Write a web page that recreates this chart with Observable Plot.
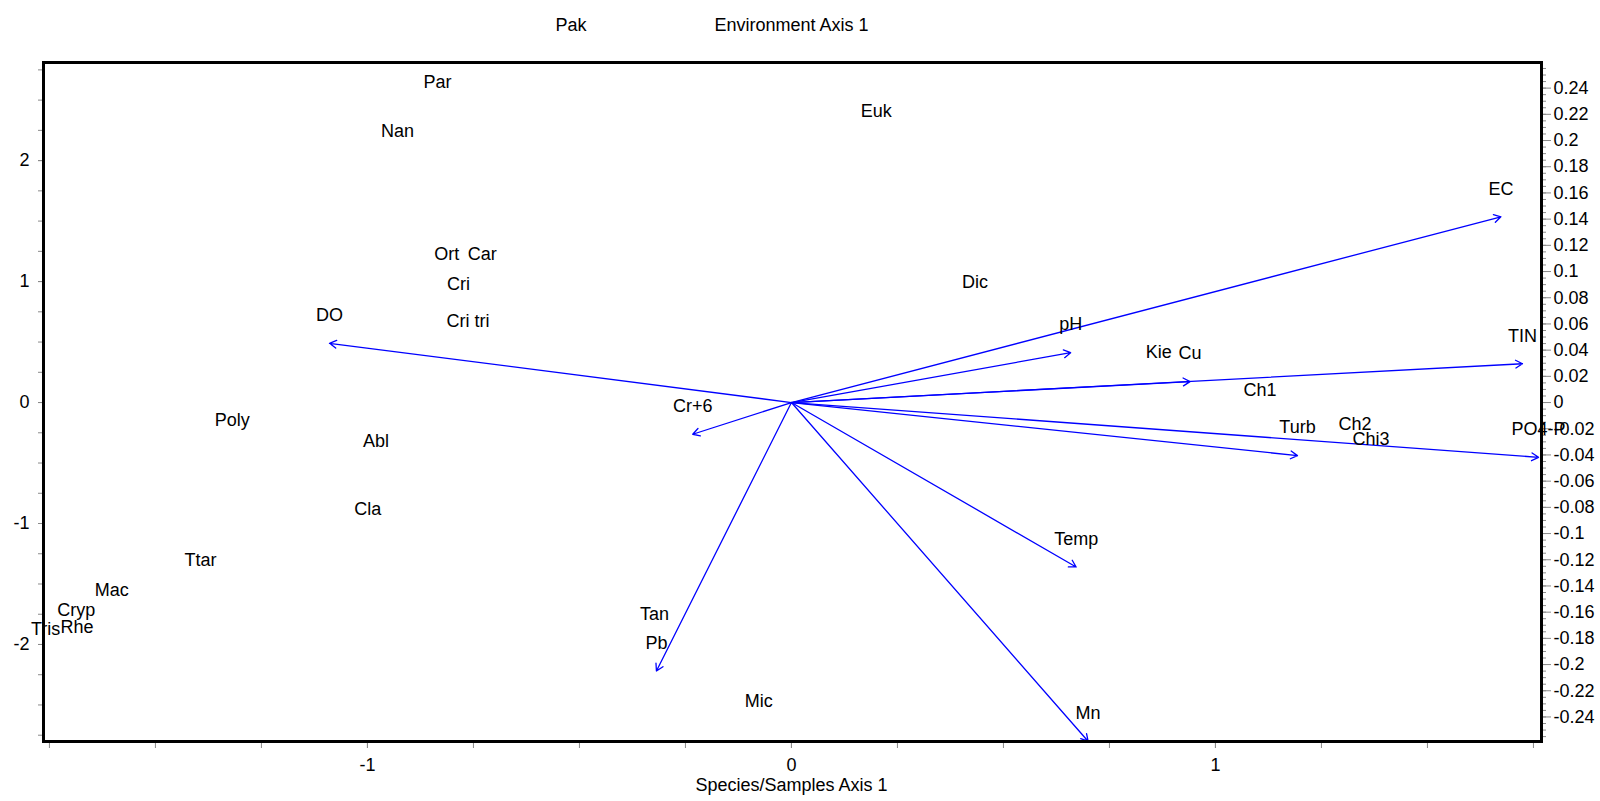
<!DOCTYPE html>
<html>
<head>
<meta charset="utf-8">
<script src="https://cdn.jsdelivr.net/npm/d3@7"></script>
<script src="https://cdn.jsdelivr.net/npm/@observablehq/plot@0.6"></script>
<style>
  html, body { margin: 0; padding: 0; background: #fff; }
  #chart svg { display: block; }
</style>
</head>
<body>
<div id="chart"></div>
<script>
// Species / samples scores (Species/Samples Axis 1, left axis units)
const speciesNames = ["Pak","Par","Nan","Euk","Ort","Car","Cri","Cri tri","Dic","Kie","Ch1","Ch2","Chi3","Poly","Abl","Cla","Ttar","Mac","Cryp","Tris","Rhe","Tan","Mic"];
const speciesX = [-0.520,-0.835,-0.929,0.200,-0.813,-0.729,-0.785,-0.763,0.433,0.866,1.105,1.329,1.367,-1.319,-0.980,-0.999,-1.394,-1.603,-1.687,-1.759,-1.685,-0.323,-0.077];
const speciesY = [3.123,2.65,2.245,2.405,1.224,1.224,0.979,0.675,0.996,0.413,0.099,-0.182,-0.300,-0.143,-0.321,-0.878,-1.300,-1.553,-1.713,-1.873,-1.857,-1.747,-2.473];

// Environmental variable scores (Environment Axis units, right axis)
const envNames = ["EC","pH","Cu","TIN","PO4-P","Turb","Temp","Mn","Pb","Cr+6","DO"];
const envX = [0.1545,0.0608,0.0868,0.1592,0.1627,0.1102,0.0620,0.0646,-0.0294,-0.0215,-0.1006];
const envY = [0.1418,0.0381,0.0160,0.0296,-0.0418,-0.0405,-0.1255,-0.2585,-0.2049,-0.0242,0.0452];

// Tick values
const xTickLabels = [-1, 0, 1];
const yTickLabels = [-2, -1, 0, 1, 2];
const envTickLabels = [-0.24,-0.22,-0.2,-0.18,-0.16,-0.14,-0.12,-0.1,-0.08,-0.06,-0.04,-0.02,0,0.02,0.04,0.06,0.08,0.1,0.12,0.14,0.16,0.18,0.2,0.22,0.24];
const axisTitles = ["Species/Samples Axis 1", "Environment Axis 1"];

const K = 10.83; // environment units -> species axis units
const xDomain = [-1.764, 1.769];
const yDomain = [-2.802, 2.811];

const species = speciesNames.map((n, i) => ({name: n, x: speciesX[i], y: speciesY[i]}));
const env = envNames.map((n, i) => ({name: n, x: envX[i] * K, y: envY[i] * K}));

const xMinor = d3.range(-7, 8).map(i => i * 0.25);
const yMinor = d3.range(-11, 12).map(i => i * 0.25);
const envMinor = d3.range(-52, 53).map(i => i * 0.005 * K).filter(v => v >= yDomain[0] && v <= yDomain[1]);
const envMajor = envTickLabels.map(v => v * K);

const font = "'Liberation Sans', Arial, Helvetica, sans-serif";
const tickGray = "#8a8a8a";

const chart = Plot.plot({
  width: 1600,
  height: 801,
  marginLeft: 43,
  marginRight: 59,
  marginTop: 62,
  marginBottom: 60,
  style: {fontFamily: font, fontSize: "18px", background: "white", color: "black"},
  x: {domain: xDomain, label: null},
  y: {domain: yDomain, label: null},
  marks: [
    // bottom axis
    Plot.axisX({ticks: xMinor, tickSize: 7, tickFormat: () => "", stroke: tickGray, label: null}),
    Plot.axisX({ticks: xTickLabels, tickSize: 7, tickPadding: 10, tickFormat: d => String(d), stroke: tickGray, fontSize: 18, label: null}),
    // left axis
    Plot.axisY({ticks: yMinor, tickSize: 5, tickFormat: () => "", stroke: tickGray, label: null}),
    Plot.axisY({ticks: yTickLabels, tickSize: 5, tickPadding: 9, tickFormat: d => String(d), stroke: tickGray, fontSize: 18, label: null}),
    // right axis (environment units)
    Plot.axisY({anchor: "right", ticks: envMinor, tickSize: 4, tickFormat: () => "", stroke: tickGray, label: null}),
    Plot.axisY({anchor: "right", ticks: envMajor, tickSize: 9, tickPadding: 3, tickFormat: d => String(+(d / K).toFixed(2)), stroke: tickGray, fontSize: 18, label: null}),
    // environment arrows
    Plot.arrow(env, {x1: () => 0, y1: () => 0, x2: "x", y2: "y", stroke: "#0000ff", strokeWidth: 1.3, headLength: 9}),
    Plot.text(env, {x: "x", y: "y", text: "name", dy: -28, fontSize: 18, fill: "black"}),
    // species labels
    Plot.text(species, {x: "x", y: "y", text: "name", fontSize: 18, fill: "black"}),
    // axis titles
    Plot.text([axisTitles[0]], {x: () => 0, frameAnchor: "bottom", dy: 49, text: d => d, fontSize: 18, fill: "black"}),
    Plot.text([axisTitles[1]], {x: () => 0, frameAnchor: "top", dy: -44, text: d => d, fontSize: 18, fill: "black"}),
    Plot.frame({stroke: "black", strokeWidth: 3})
  ]
});
document.getElementById("chart").appendChild(chart);
</script>
</body>
</html>
